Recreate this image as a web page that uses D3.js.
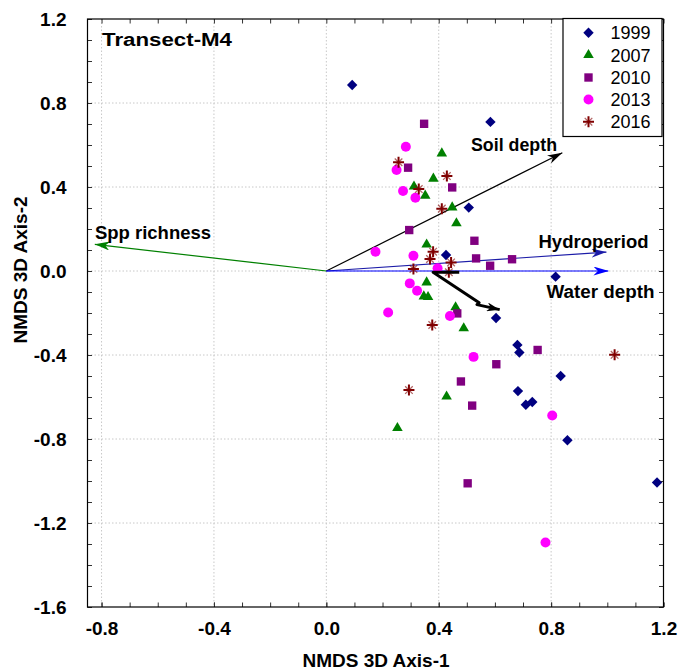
<!DOCTYPE html>
<html>
<head>
<meta charset="utf-8">
<script src="https://cdn.jsdelivr.net/npm/d3@7"></script>
<style>
  html, body { margin: 0; padding: 0; background: #fff; }
  svg { display: block; font-family: Arial, "Liberation Sans", sans-serif; }
</style>
</head>
<body>
<div id="chart"></div>
<script>
// ---------- data ----------
const years = ["1999", "2007", "2010", "2013", "2016"];

const pts1999 = [
  [0.092, 0.886], [0.584, 0.710], [0.507, 0.302], [0.426, 0.076], [0.816, -0.027],
  [0.604, -0.224], [0.680, -0.352], [0.687, -0.388], [0.834, -0.500], [0.682, -0.572],
  [0.710, -0.637], [0.733, -0.624], [0.858, -0.806], [1.177, -1.007]
];
const pts2007 = [
  [0.411, 0.560], [0.381, 0.440], [0.312, 0.402], [0.352, 0.359], [0.448, 0.303],
  [0.463, 0.227], [0.357, 0.126], [0.357, -0.054], [0.347, -0.121], [0.362, -0.124],
  [0.460, -0.173], [0.489, -0.273], [0.428, -0.598], [0.253, -0.748]
];
const pts2010 = [
  [0.348, 0.701], [0.291, 0.492], [0.448, 0.398], [0.295, 0.195], [0.527, 0.144],
  [0.533, 0.060], [0.583, 0.025], [0.661, 0.056], [0.466, -0.202], [0.752, -0.376],
  [0.605, -0.444], [0.479, -0.526], [0.519, -0.641], [0.503, -1.011]
];
const pts2013 = [
  [0.283, 0.592], [0.250, 0.481], [0.273, 0.381], [0.317, 0.349], [0.175, 0.092],
  [0.310, 0.073], [0.396, 0.013], [0.297, -0.059], [0.323, -0.094], [0.220, -0.198],
  [0.440, -0.214], [0.524, -0.409], [0.804, -0.688], [0.780, -1.293]
];
const pts2016 = [
  [0.257, 0.518], [0.329, 0.390], [0.429, 0.452], [0.411, 0.297], [0.380, 0.092],
  [0.369, 0.057], [0.444, 0.041], [0.310, 0.010], [0.436, -0.006], [0.377, -0.257],
  [1.026, -0.399], [0.294, -0.567]
];

// environmental vectors (from origin)
const vectorNames = ["Spp richness", "Soil depth", "Hydroperiod", "Water depth"];
const vectorEnds = [[-0.824, 0.127], [0.840, 0.563], [0.997, 0.090], [1.004, 0.000]];

// short thick arrow path (data coordinates)
const thickArrow = [[0.473, -0.006], [0.380, -0.006], [0.544, -0.151], [0.536, -0.160], [0.617, -0.184]];

const xTicks = [-0.8, -0.4, 0.0, 0.4, 0.8, 1.2];
const xTickLabels = ["-0.8", "-0.4", "0.0", "0.4", "0.8", "1.2"];
const yTicks = [1.2, 0.8, 0.4, 0.0, -0.4, -0.8, -1.2, -1.6];
const yTickLabels = ["1.2", "0.8", "0.4", "0.0", "-0.4", "-0.8", "-1.2", "-1.6"];

const title = "Transect-M4";
const xTitle = "NMDS 3D Axis-1";
const yTitle = "NMDS 3D Axis-2";

// ---------- layout ----------
const W = 678, H = 671;
const L = 87.5, R = 663.5, T = 19, B = 607;

const x = d3.scaleLinear().domain([-0.85, 1.2]).range([L, R]);
const y = d3.scaleLinear().domain([-1.6, 1.2]).range([B, T]);

const svg = d3.select("#chart").append("svg").attr("width", W).attr("height", H);

// grid
const grid = svg.append("g").attr("stroke", "#c8c8c8").attr("stroke-width", 1).attr("stroke-dasharray", "1.5,2");
grid.selectAll("line.gx").data(xTicks.filter(v => v < 1.19)).join("line")
  .attr("x1", d => x(d)).attr("x2", d => x(d)).attr("y1", T).attr("y2", B);
grid.selectAll("line.gy").data(yTicks.filter(v => v < 1.19 && v > -1.59)).join("line")
  .attr("y1", d => y(d)).attr("y2", d => y(d)).attr("x1", L).attr("x2", R);

// minor tick values
const xMinor = d3.range(-8, 13).map(i => i / 10).filter(v => v >= -0.85 && v <= 1.2);
const yMinor = d3.range(-16, 13).map(i => i / 10);

function styleAxis(g) {
  g.select(".domain").remove();
  g.selectAll(".tick line").attr("stroke", "#333").attr("stroke-width", 1);
}
const tickLen = 4.5;
// bottom
svg.append("g").attr("transform", `translate(0,${B})`)
  .call(d3.axisBottom(x).tickValues(xMinor).tickFormat("").tickSize(-tickLen)).call(styleAxis);
const xb = svg.append("g").attr("transform", `translate(0,${B})`)
  .call(d3.axisBottom(x).tickValues(xTicks).tickFormat((d, i) => xTickLabels[i]).tickSize(-tickLen)).call(styleAxis);
xb.selectAll("text").attr("y", 28).attr("dy", null)
  .attr("font-size", 19).attr("font-weight", "bold").attr("fill", "#000").attr("font-family", "Arial, 'Liberation Sans', sans-serif");
// top
svg.append("g").attr("transform", `translate(0,${T})`)
  .call(d3.axisTop(x).tickValues(xMinor).tickFormat("").tickSize(-tickLen)).call(styleAxis);
// left
svg.append("g").attr("transform", `translate(${L},0)`)
  .call(d3.axisLeft(y).tickValues(yMinor).tickFormat("").tickSize(-tickLen)).call(styleAxis);
const yl = svg.append("g").attr("transform", `translate(${L},0)`)
  .call(d3.axisLeft(y).tickValues(yTicks).tickFormat((d, i) => yTickLabels[i]).tickSize(-tickLen)).call(styleAxis);
yl.selectAll("text").attr("x", -21).attr("dy", "0.36em")
  .attr("font-size", 19).attr("font-weight", "bold").attr("fill", "#000").attr("font-family", "Arial, 'Liberation Sans', sans-serif");
// right
svg.append("g").attr("transform", `translate(${R},0)`)
  .call(d3.axisRight(y).tickValues(yMinor).tickFormat("").tickSize(-tickLen)).call(styleAxis);

// frame
svg.append("rect").attr("x", L).attr("y", T).attr("width", R - L).attr("height", B - T)
  .attr("fill", "none").attr("stroke", "#000").attr("stroke-width", 1.2);

// arrowheads
const defs = svg.append("defs");
function arrowMarker(id, color, len, half) {
  defs.append("marker").attr("id", id)
    .attr("viewBox", `${-len} ${-half} ${len} ${2 * half}`)
    .attr("refX", 0).attr("refY", 0)
    .attr("markerUnits", "userSpaceOnUse")
    .attr("markerWidth", len).attr("markerHeight", 2 * half)
    .attr("orient", "auto")
    .append("path")
    .attr("d", `M0,0 L${-len},${-half} L${-len * 0.7},0 L${-len},${half} Z`)
    .attr("fill", color);
}
const vecColors = ["#008000", "#000000", "#1c1ca8", "#0000ff"];
vecColors.forEach((c, i) => arrowMarker("ah" + i, c, 15, 4.5));
arrowMarker("ahThick", "#000", 13, 4.5);

const vecG = svg.append("g");
vecG.selectAll("line").data(vectorEnds).join("line")
  .attr("x1", x(0)).attr("y1", y(0))
  .attr("x2", d => x(d[0])).attr("y2", d => y(d[1]))
  .attr("stroke", (d, i) => vecColors[i])
  .attr("stroke-width", 1.2)
  .attr("marker-end", (d, i) => `url(#ah${i})`);

// points
const symDiamond = "M0,-5.2L5.2,0L0,5.2L-5.2,0Z";
const symSquare = d3.symbol().type(d3.symbolSquare).size(70)();
const symCircle = d3.symbol().type(d3.symbolCircle).size(78)();
const symTriangle = d3.symbol().type(d3.symbolTriangle).size(48)();

const seriesList = [
  { data: pts1999, color: "#000080", path: symDiamond },
  { data: pts2007, color: "#008000", path: symTriangle },
  { data: pts2010, color: "#800080", path: symSquare },
  { data: pts2013, color: "#ff00ff", path: symCircle },
  { data: pts2016, color: "#800000", path: null }
];

function drawStar(g, cx, cy, c) {
  const s = g.append("g").attr("transform", `translate(${cx},${cy})`);
  s.append("path").attr("d", "M-3.8,-3.8L3.8,3.8M-3.8,3.8L3.8,-3.8")
    .attr("stroke", c).attr("stroke-opacity", 0.6).attr("stroke-width", 1.3).attr("fill", "none");
  s.append("path").attr("d", "M-5.5,0H5.5M0,-5.5V5.5")
    .attr("stroke", c).attr("stroke-width", 2).attr("fill", "none");
}

const ptsG = svg.append("g");
seriesList.forEach(s => {
  s.data.forEach(d => {
    if (s.path) {
      ptsG.append("path").attr("d", s.path)
        .attr("transform", `translate(${x(d[0])},${y(d[1])})`)
        .attr("fill", s.color);
    } else {
      drawStar(ptsG, x(d[0]), y(d[1]), s.color);
    }
  });
});

// thick short arrow
svg.append("path")
  .attr("d", d3.line().x(d => x(d[0])).y(d => y(d[1]))(thickArrow))
  .attr("fill", "none").attr("stroke", "#000").attr("stroke-width", 3)
  .attr("stroke-linejoin", "round")
  .attr("marker-end", "url(#ahThick)");

// vector labels
const labelPos = [[95, 238.5], [471, 151], [538.5, 247.5], [546.5, 297.5]];
const labelLen = [116, 86, 110, 108];
svg.append("g").selectAll("text").data(vectorNames).join("text")
  .attr("x", (d, i) => labelPos[i][0]).attr("y", (d, i) => labelPos[i][1])
  .attr("textLength", (d, i) => labelLen[i]).attr("lengthAdjust", "spacingAndGlyphs")
  .attr("font-size", 17.5).attr("font-weight", "bold").attr("fill", "#000")
  .text(d => d);

// title
svg.append("text").attr("x", 102).attr("y", 46)
  .attr("textLength", 130).attr("lengthAdjust", "spacingAndGlyphs")
  .attr("font-size", 18).attr("font-weight", "bold").text(title);

// axis titles
svg.append("text").attr("x", 376).attr("y", 667).attr("text-anchor", "middle")
  .attr("font-size", 19).attr("font-weight", "bold").text(xTitle);
svg.append("text").attr("transform", `translate(27,270) rotate(-90)`).attr("text-anchor", "middle")
  .attr("font-size", 19).attr("font-weight", "bold").text(yTitle);

// legend
const lg = svg.append("g");
lg.append("rect").attr("x", 563).attr("y", 18.5).attr("width", 99).attr("height", 118)
  .attr("fill", "#fff").attr("stroke", "#000").attr("stroke-width", 1.2);
const rowY = [32.7, 55, 77.5, 99.5, 121.7];
years.forEach((yr, i) => {
  const s = seriesList[i];
  if (s.path) {
    lg.append("path").attr("d", s.path).attr("transform", `translate(588.5,${rowY[i]})`).attr("fill", s.color);
  } else {
    drawStar(lg, 588.5, rowY[i], s.color);
  }
  lg.append("text").attr("x", 610.5).attr("y", rowY[i] + 6.5)
    .attr("font-size", 18).attr("fill", "#000").text(yr);
});
</script>
</body>
</html>
